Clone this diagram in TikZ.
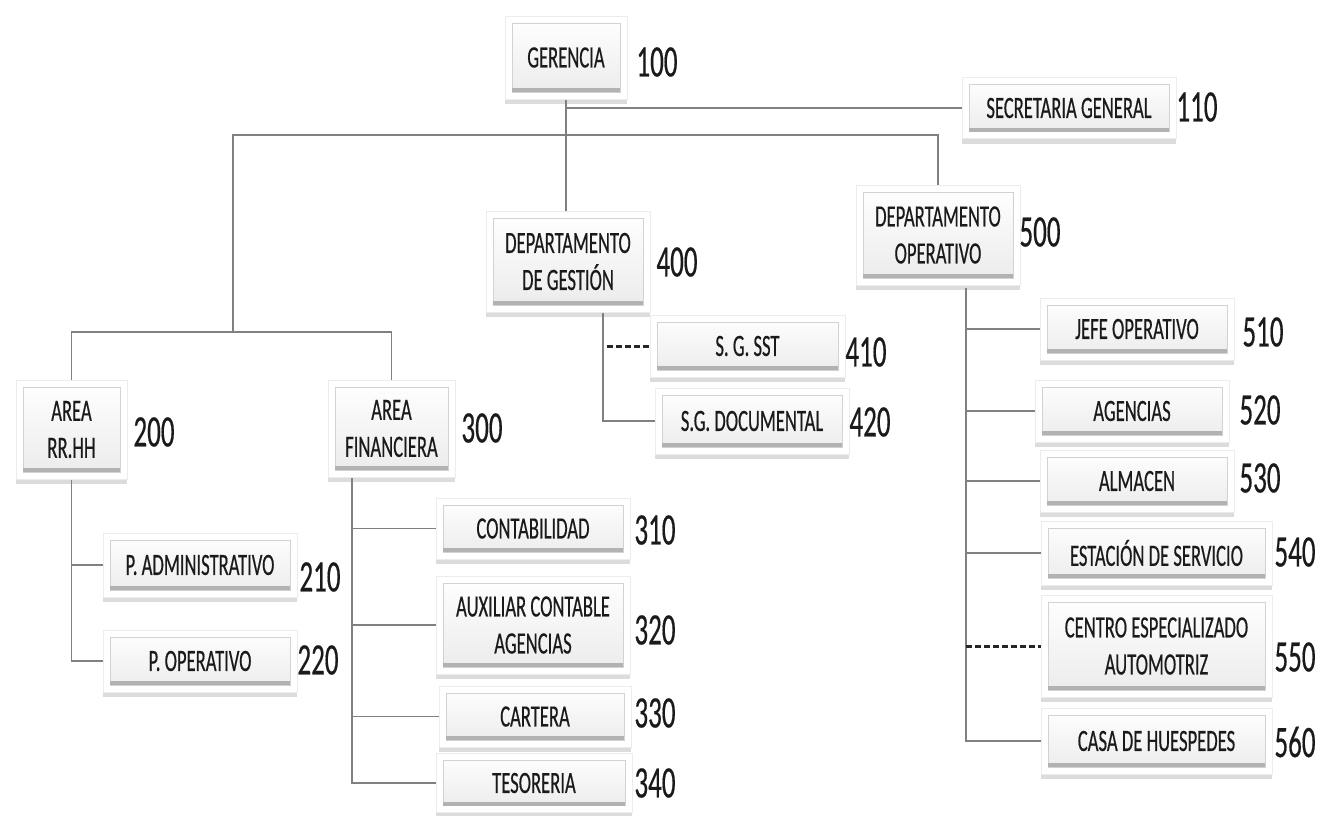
\documentclass[tikz,border=0pt]{standalone}
\usepackage{fontspec}
\setmainfont[FakeStretch=0.6, FakeBold=0.4]{Carlito}
\usetikzlibrary{shadows,backgrounds}
\definecolor{linegray}{HTML}{808080}
\definecolor{txt}{HTML}{1A1A1A}
\tikzset{
  obox/.style={rectangle, fill=white, draw=gray!15, line width=0.6pt,
    drop shadow={shadow xshift=0pt, shadow yshift=-5pt, opacity=0.28, fill=gray},
    inner sep=0pt, align=center, text=txt,
    font=\fontsize{31}{37}\selectfont,
    path picture={
      \shade[top color=white, bottom color=gray!16]
        ([shift={(7pt,-7pt)}]path picture bounding box.north west) rectangle
        ([shift={(-7pt,7pt)}]path picture bounding box.south east);
      \draw[gray!35, line width=0.8pt]
        ([shift={(7pt,-7pt)}]path picture bounding box.north west) rectangle
        ([shift={(-7pt,7pt)}]path picture bounding box.south east);
      \fill[gray!60]
        ([shift={(7pt,7pt)}]path picture bounding box.south west) rectangle
        ([shift={(-7pt,11pt)}]path picture bounding box.south east);
    }},
  num/.style={inner sep=0pt, text=txt, font=\fontsize{45}{45}\selectfont},
  conn/.style={draw=linegray, line width=1.8pt},
  dconn/.style={draw=black!85, line width=3pt, dash pattern=on 6pt off 3pt}
}
\begin{document}
\begin{tikzpicture}[x=1pt,y=-1pt]
\useasboundingbox (0,0) rectangle (1320,816);

% boxes
\node[obox, minimum width=122, minimum height=83] (ger) at (566,57.5) {GERENCIA};
\node[obox, minimum width=214, minimum height=61] (sec) at (1069,108) {SECRETARIA GENERAL};
\node[obox, minimum width=164, minimum height=101] (dg) at (568,261.5) {DEPARTAMENTO\\DE GESTIÓN};
\node[obox, minimum width=164, minimum height=100] (do) at (938,235) {DEPARTAMENTO\\OPERATIVO};
\node[obox, minimum width=195, minimum height=62] (sst) at (747.5,346) {S. G. SST};
\node[obox, minimum width=194, minimum height=66] (sgd) at (752,421) {S.G. DOCUMENTAL};
\node[obox, minimum width=111, minimum height=99] (rrhh) at (71.5,429.5) {AREA\\RR.HH};
\node[obox, minimum width=127, minimum height=97] (af) at (391.5,428.5) {AREA\\FINANCIERA};
\node[obox, minimum width=194, minimum height=64] (padm) at (200,565) {P. ADMINISTRATIVO};
\node[obox, minimum width=194, minimum height=62] (pop) at (200,661) {P. OPERATIVO};
\node[obox, minimum width=194, minimum height=61] (cont) at (533,528.5) {CONTABILIDAD};
\node[obox, minimum width=194, minimum height=98] (aux) at (533,625) {AUXILIAR CONTABLE\\AGENCIAS};
\node[obox, minimum width=192, minimum height=61] (cart) at (535,716.5) {CARTERA};
\node[obox, minimum width=196, minimum height=59] (tes) at (534,783) {TESORERIA};
\node[obox, minimum width=194, minimum height=62] (jefe) at (1137,329) {JEFE OPERATIVO};
\node[obox, minimum width=194, minimum height=62] (agen) at (1132,411) {AGENCIAS};
\node[obox, minimum width=194, minimum height=62] (alm) at (1137,481) {ALMACEN};
\node[obox, minimum width=231, minimum height=64] (est) at (1156.5,553) {ESTACIÓN DE SERVICIO};
\node[obox, minimum width=231, minimum height=102] (cen) at (1156.5,646) {CENTRO ESPECIALIZADO\\AUTOMOTRIZ};
\node[obox, minimum width=231, minimum height=66] (casa) at (1156.5,741) {CASA DE HUESPEDES};

% numbers
\node[num] (n100) at (657,62) {100};
\node[num] (n110) at (1197,107) {110};
\node[num] (n400) at (677,262) {400};
\node[num] (n500) at (1040,232) {500};
\node[num] (n410) at (866,352) {410};
\node[num] (n420) at (870,422) {420};
\node[num] (n200) at (154,432) {200};
\node[num] (n300) at (482,428) {300};
\node[num] (n210) at (320,577) {210};
\node[num] (n220) at (318,660) {220};
\node[num] (n310) at (655,530) {310};
\node[num] (n320) at (655,630) {320};
\node[num] (n330) at (655,713) {330};
\node[num] (n340) at (655,783) {340};
\node[num] (n510) at (1263,332) {510};
\node[num] (n520) at (1260,410) {520};
\node[num] (n530) at (1260,478) {530};
\node[num] (n540) at (1295,552) {540};
\node[num] (n550) at (1295,657) {550};
\node[num] (n560) at (1295,742) {560};

% connectors
\coordinate (topL) at (233,135);
\coordinate (barL) at (233,332);
\coordinate (dgT) at (603,312);
\coordinate (afT) at (352,477);
\coordinate (doT) at (966,288);
\begin{scope}[on background layer]
\draw[conn] (ger.south) -- (ger.south |- dg.north);
\draw[conn] (ger.south |- sec.west) -- (sec.west);
\draw[conn] (barL) -- (topL) -| (do.north);
\draw[conn] (rrhh.north) |- (barL) -| (af.north);
\draw[conn] (dgT) |- (sgd.west);
\draw[dconn] ([xshift=4pt]dgT |- sst.west) -- (sst.west);
\draw[conn] (rrhh.south) |- (pop.west);
\draw[conn] (rrhh.south |- padm.west) -- (padm.west);
\draw[conn] (afT) |- (tes.west);
\draw[conn] (afT |- cont.west) -- (cont.west);
\draw[conn] (afT |- aux.west) -- (aux.west);
\draw[conn] (afT |- cart.west) -- (cart.west);
\draw[conn] (doT) |- (casa.west);
\draw[conn] (doT |- jefe.west) -- (jefe.west);
\draw[conn] (doT |- agen.west) -- (agen.west);
\draw[conn] (doT |- alm.west) -- (alm.west);
\draw[conn] (doT |- est.west) -- (est.west);
\draw[dconn] (doT |- cen.west) -- (cen.west);
\end{scope}
\end{tikzpicture}
\end{document}
